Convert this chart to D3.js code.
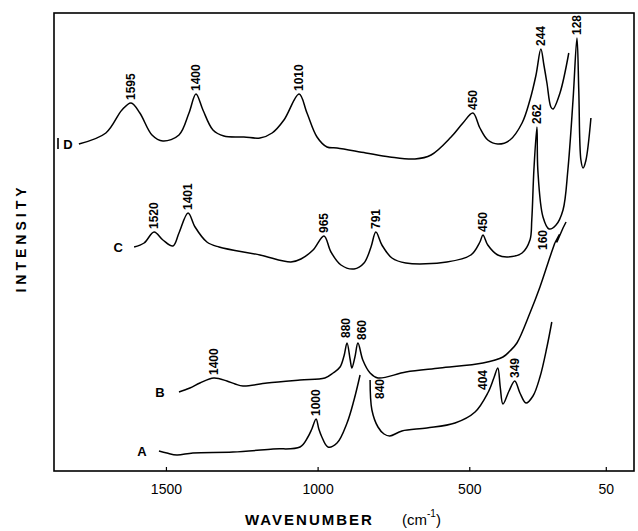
<html>
<head>
<script src="https://cdn.jsdelivr.net/npm/d3@7"></script>
<style>
  body { margin: 0; background: #fff; }
  svg text { font-family: "Liberation Sans", Arial, sans-serif; fill: #000; }
  .spec { fill: none; stroke: #000; stroke-width: 1.5; stroke-linejoin: round; }
</style>
</head>
<body>
<svg id="chart" width="638" height="531"></svg>
<script>
// spectra: [wavenumber position, intensity (arb.)]
var specA1 = [[1523,20],[1497,18],[1464,16],[1411,18],[1279,19],[1147,22],[1058,24],[1032,34],[1019,42],[1005,52],[996,42],[986,34],[966,24],[936,28],[903,48],[880,71],[860,96]];
var specA2 = [[827,91],[821,61],[801,44],[781,37],[762,35],[722,40],[640,43],[547,48],[481,59],[439,78],[419,93],[406,103],[398,84],[389,67],[369,80],[350,90],[333,78],[313,68],[290,75],[267,94],[244,124],[228,149]];
var specB = [[1457,79],[1421,83],[1388,88],[1342,93],[1299,90],[1272,87],[1246,85],[1167,88],[1058,91],[976,93],[949,98],[926,104],[913,115],[903,128],[893,112],[887,103],[877,114],[867,128],[851,111],[827,98],[801,93],[709,99],[597,103],[455,108],[389,114],[366,120],[343,128],[300,158],[267,184],[234,214],[218,228]];
var breakB = [[218,228],[204,236],[211,229],[191,243],[181,249]];
var specC = [[1605,224],[1572,228],[1539,239],[1510,231],[1477,225],[1457,238],[1427,258],[1404,244],[1365,229],[1325,224],[1190,216],[1088,209],[1055,212],[1015,221],[979,235],[956,219],[923,206],[880,202],[847,208],[824,224],[808,239],[788,226],[755,213],[709,208],[574,209],[495,216],[465,229],[455,236],[439,226],[406,216],[373,214],[326,218],[300,231],[294,251],[287,301],[277,344],[274,301],[257,254],[237,242],[214,246],[191,261],[175,301],[158,371],[145,433],[139,380],[132,311],[125,303],[116,310],[99,353]];
var specD = [[1787,327],[1698,338],[1645,361],[1615,368],[1586,358],[1546,336],[1510,330],[1457,336],[1424,358],[1401,377],[1378,361],[1345,341],[1309,335],[1243,334],[1190,333],[1150,338],[1111,351],[1061,377],[1035,358],[1002,334],[969,324],[936,323],[841,318],[762,314],[679,312],[626,316],[560,334],[521,348],[488,358],[465,343],[439,331],[406,327],[366,331],[326,348],[300,371],[280,396],[264,422],[254,406],[244,388],[231,364],[224,362],[201,378],[172,418]];

// peak labels: [text, wavenumber position of the marked peak]
var labelsA = [["1000",1005],["840",827],["404",406],["349",350]];
var labelsB = [["1400",1342],["880",903],["860",867],["160",218]];
var labelsC = [["1520",1539],["1401",1427],["965",979],["791",808],["450",455],["262",277],["128",145]];
var labelsD = [["1595",1615],["1400",1401],["1010",1061],["450",488],["244",264]];

var seriesNames = ["A","B","C","D"];
var tickValues = [1500, 1000, 500, 50];

var svg = d3.select("#chart");
var x = d3.scaleLinear().domain([1869, -43]).range([54, 634]);
var y = d3.scaleLinear().domain([0, 458]).range([471, 13]);

var line = d3.line()
  .x(function(d) { return x(d[0]); })
  .y(function(d) { return y(d[1]); })
  .curve(d3.curveCatmullRom.alpha(0.5));
var straight = d3.line()
  .x(function(d) { return x(d[0]); })
  .y(function(d) { return y(d[1]); });

// frame
svg.append("rect")
  .attr("x", 54).attr("y", 13).attr("width", 580).attr("height", 458)
  .attr("fill", "none").attr("stroke", "#000").attr("stroke-width", 1.6);

// bottom axis
var ax = svg.append("g")
  .attr("transform", "translate(0,471)")
  .call(d3.axisBottom(x).tickValues(tickValues).tickSizeInner(-4).tickSizeOuter(0).tickPadding(13).tickFormat(d3.format("d")));
ax.select(".domain").remove();
ax.selectAll("line").attr("stroke", "#000").attr("stroke-width", 1.2);
ax.selectAll("text").style("font-size", "14px").style("font-family", "Liberation Sans, Arial, sans-serif");

// curves
[specA1, specA2, specB, specC, specD].forEach(function(s) {
  svg.append("path").attr("class", "spec").attr("d", line(s));
});
svg.append("path").attr("class", "spec").attr("d", straight(breakB));

// curve letters
var starts = [specA1[0], specB[0], specC[0], specD[0]];
var letterDx = [-17, -19, -16, -11];
seriesNames.forEach(function(n, i) {
  svg.append("text")
    .attr("x", x(starts[i][0]) + letterDx[i])
    .attr("y", y(starts[i][1]))
    .attr("dy", "0.36em")
    .attr("text-anchor", "middle")
    .style("font-size", "13px").style("font-weight", "bold")
    .text(n);
});
svg.append("line").attr("x1", 58).attr("x2", 58).attr("y1", 138).attr("y2", 149)
  .attr("stroke", "#000").attr("stroke-width", 1.6);

// peak labels
var nudge = { "A840": [10, 22], "A404": [-15, 25], "B160": [-12, 10], "B860": [4, 0], "B880": [-1, -2] };
function addLabels(list, spec, name) {
  list.forEach(function(l) {
    var p = spec.filter(function(d) { return d[0] === l[1]; })[0];
    var off = nudge[name + l[0]] || [0, 0];
    var px = x(p[0]) + off[0], py = y(p[1]) - 3 + off[1];
    svg.append("text")
      .attr("transform", "translate(" + px + "," + py + ") rotate(-90)")
      .attr("dy", "0.35em")
      .style("font-size", "12px").style("font-weight", "bold")
      .text(l[0]);
  });
}
addLabels(labelsA, specA1.concat(specA2), "A");
addLabels(labelsB, specB, "B");
addLabels(labelsC, specC, "C");
addLabels(labelsD, specD, "D");

// axis titles
svg.append("text")
  .attr("transform", "translate(21,238) rotate(-90)")
  .attr("text-anchor", "middle").attr("dy", "0.35em")
  .style("font-size", "14px").style("font-weight", "bold").style("letter-spacing", "4px")
  .text("INTENSITY");
svg.append("text")
  .attr("x", 245).attr("y", 525)
  .style("font-size", "15px").style("font-weight", "bold").style("letter-spacing", "2px")
  .text("WAVENUMBER");
var unit = svg.append("text").attr("x", 402).attr("y", 525).style("font-size", "15px");
unit.append("tspan").text("(cm");
unit.append("tspan").attr("dy", -8).style("font-size", "10px").text("-1");
unit.append("tspan").attr("dy", 8).text(")");
</script>
</body>
</html>
